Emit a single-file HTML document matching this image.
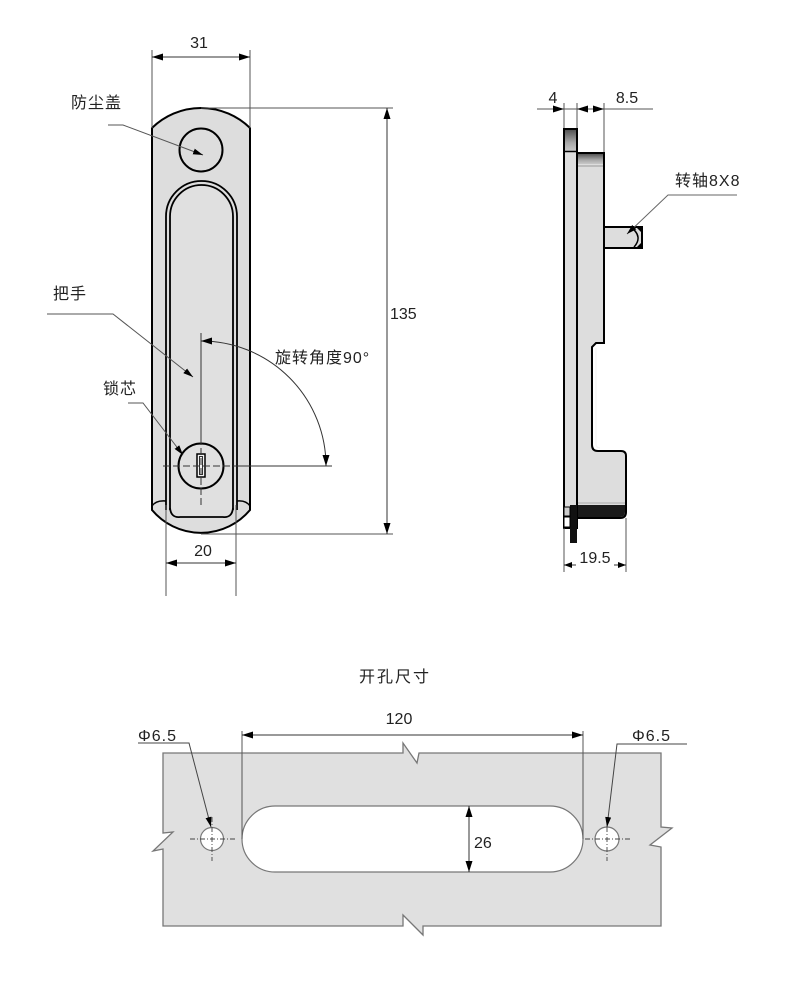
<!DOCTYPE html>
<html>
<head>
<meta charset="utf-8">
<style>
  html,body{margin:0;padding:0;background:#fff;}
  svg{display:block;}
  text{font-family:"Liberation Sans","Noto Sans CJK SC",sans-serif;font-size:16px;fill:#222;}
  .cjk{letter-spacing:1px;}
</style>
</head>
<body>
<svg width="788" height="1000" viewBox="0 0 788 1000" xmlns="http://www.w3.org/2000/svg">
  <defs>
    <marker id="ar" viewBox="0 0 11 7" refX="11" refY="3.5" markerWidth="11" markerHeight="7" markerUnits="userSpaceOnUse" orient="auto-start-reverse">
      <path d="M0,0 L11,3.5 L0,7 z" fill="#000"/>
    </marker>
    <marker id="la" viewBox="0 0 10 6" refX="10" refY="3" markerWidth="10" markerHeight="6" markerUnits="userSpaceOnUse" orient="auto">
      <path d="M0,0 L10,3 L0,6 z" fill="#000"/>
    </marker>
    <linearGradient id="g1" x1="0" y1="0" x2="0" y2="1">
      <stop offset="0" stop-color="#555"/>
      <stop offset="0.6" stop-color="#a8a8a8"/>
      <stop offset="1" stop-color="#c8c8c8"/>
    </linearGradient>
  </defs>
  <rect width="788" height="1000" fill="#fff"/>

  <!-- ============ FRONT VIEW ============ -->
  <!-- body -->
  <path d="M152,128 A70,70 0 0 1 250,128 L250,510 A64,64 0 0 1 152,510 Z" fill="#dddddd" stroke="#000" stroke-width="2"/>
  <!-- dust cover -->
  <circle cx="201" cy="150" r="21.5" fill="#dddddd" stroke="#000" stroke-width="2"/>
  <!-- handle double outline -->
  <path d="M166,510 L166,216.5 A35.5,35.5 0 0 1 237,216.5 L237,510" fill="none" stroke="#000" stroke-width="1.8"/>
  <path d="M170,510 L170,216.5 A31.5,31.5 0 0 1 233,216.5 L233,510" fill="#e0e0e0" stroke="#000" stroke-width="1.8"/>
  <!-- side strip ends -->
  <path d="M152,506 Q156,500 166,501" fill="none" stroke="#000" stroke-width="1.5"/>
  <path d="M250,506 Q246,500 237,501" fill="none" stroke="#000" stroke-width="1.5"/>
  <!-- handle bottom -->
  <path d="M170,508 Q171,518 180,517 L223,517 Q232,518 233,508" fill="none" stroke="#000" stroke-width="1.8"/>

  <!-- lock cylinder -->
  <circle cx="201" cy="466" r="22.5" fill="#e0e0e0" stroke="#000" stroke-width="2"/>
  <rect x="197" y="454" width="8" height="23" fill="#f2f2f2" stroke="#000" stroke-width="1.5"/>
  <rect x="199.5" y="456.5" width="3" height="18" fill="none" stroke="#000" stroke-width="0.8"/>

  <!-- rotation center lines -->
  <line x1="201" y1="333" x2="201" y2="438" stroke="#333" stroke-width="1"/>
  <line x1="201" y1="438" x2="201" y2="505" stroke="#333" stroke-width="1" stroke-dasharray="7,3"/>
  <line x1="163" y1="466" x2="238" y2="466" stroke="#333" stroke-width="1" stroke-dasharray="7,3"/>
  <line x1="238" y1="466" x2="332" y2="466" stroke="#333" stroke-width="1"/>
  <path d="M201,341 A125,125 0 0 1 326,466" fill="none" stroke="#333" stroke-width="1" marker-start="url(#ar)" marker-end="url(#ar)"/>
  <text x="275" y="363" class="cjk">旋转角度90°</text>

  <!-- dim 31 -->
  <line x1="152" y1="50" x2="152" y2="128" stroke="#555" stroke-width="1"/>
  <line x1="250" y1="50" x2="250" y2="128" stroke="#555" stroke-width="1"/>
  <line x1="152" y1="57" x2="250" y2="57" stroke="#333" stroke-width="1" marker-start="url(#ar)" marker-end="url(#ar)"/>
  <text x="199" y="48" text-anchor="middle">31</text>

  <!-- dim 135 -->
  <line x1="201" y1="108" x2="393" y2="108" stroke="#555" stroke-width="1"/>
  <line x1="201" y1="534" x2="393" y2="534" stroke="#555" stroke-width="1"/>
  <line x1="387" y1="108" x2="387" y2="534" stroke="#333" stroke-width="1" marker-start="url(#ar)" marker-end="url(#ar)"/>
  <text x="390" y="319">135</text>

  <!-- dim 20 -->
  <line x1="166" y1="505" x2="166" y2="596" stroke="#555" stroke-width="1"/>
  <line x1="236" y1="505" x2="236" y2="596" stroke="#555" stroke-width="1"/>
  <line x1="166" y1="563" x2="236" y2="563" stroke="#333" stroke-width="1" marker-start="url(#ar)" marker-end="url(#ar)"/>
  <text x="203" y="556" text-anchor="middle">20</text>

  <!-- leaders -->
  <text x="71" y="108" class="cjk">防尘盖</text>
  <path d="M108,125 L123,125 L203,155" fill="none" stroke="#555" stroke-width="1" marker-end="url(#la)"/>
  <text x="53" y="299" class="cjk">把手</text>
  <path d="M47,314 L113,314 L193,377" fill="none" stroke="#555" stroke-width="1" marker-end="url(#la)"/>
  <text x="103" y="394" class="cjk">锁芯</text>
  <path d="M128,403 L143,403 L183,455" fill="none" stroke="#555" stroke-width="1" marker-end="url(#la)"/>

  <!-- ============ SIDE VIEW ============ -->
  <!-- dims 4 / 8.5 -->
  <line x1="564" y1="103" x2="564" y2="129" stroke="#555" stroke-width="1"/>
  <line x1="577" y1="103" x2="577" y2="153" stroke="#555" stroke-width="1"/>
  <line x1="604" y1="103" x2="604" y2="153" stroke="#555" stroke-width="1"/>
  <line x1="537" y1="109" x2="653" y2="109" stroke="#555" stroke-width="1"/>
  <path d="M553,105.5 L564,109 L553,112.5 Z" fill="#000"/>
  <path d="M588,105.5 L577,109 L588,112.5 Z" fill="#000"/>
  <path d="M593,105.5 L604,109 L593,112.5 Z" fill="#000"/>
  <text x="553" y="103" text-anchor="middle">4</text>
  <text x="627" y="103" text-anchor="middle">8.5</text>

  <!-- body -->
  <path d="M577,153 L604,153 L604,343 L596,343 L592,347 L592,445 Q592,451 598,451 L621,451 Q626,451 626,456 L626,512 Q626,518 620,518 L577,518 Z" fill="#dddddd" stroke="#000" stroke-width="2"/>
  <path d="M596,348 L596,444 Q596,448 600,448" fill="none" stroke="#f4f4f4" stroke-width="1.2"/>
  <rect x="578" y="154" width="25" height="10" fill="url(#g1)"/>
  <line x1="578" y1="166" x2="603" y2="166" stroke="#999" stroke-width="1"/>
  <path d="M578,505 L625,505 L625,512 Q625,517 620,517 L578,517 Z" fill="#1a1a1a"/>
  <line x1="578" y1="503" x2="625" y2="503" stroke="#aaa" stroke-width="1"/>

  <!-- flange -->
  <rect x="564" y="129" width="13" height="399" fill="#dddddd" stroke="#000" stroke-width="2"/>
  <rect x="565" y="130" width="11" height="21" fill="url(#g1)"/>
  <line x1="564" y1="151.5" x2="577" y2="151.5" stroke="#000" stroke-width="1.5"/>
  <rect x="570" y="505" width="7" height="38" fill="#111"/>
  <rect x="564" y="507" width="6" height="9" fill="#ccc" stroke="#000" stroke-width="1"/>
  <rect x="564" y="517" width="6" height="10" fill="#fff" stroke="#000" stroke-width="1"/>

  <!-- shaft -->
  <rect x="604" y="227" width="38" height="21" fill="#dddddd" stroke="#000" stroke-width="2"/>
  <path d="M632,228 Q643,237 634,247" fill="none" stroke="#000" stroke-width="1.5"/>
  <path d="M637,228 L642,228 L642,233 Z" fill="#000"/>
  <path d="M637,247 L642,247 L642,242 Z" fill="#000"/>

  <!-- shaft leader -->
  <text x="675" y="186" class="cjk">转轴8X8</text>
  <path d="M737,195 L668,195 L627,234" fill="none" stroke="#666" stroke-width="1" marker-end="url(#la)"/>

  <!-- dim 19.5 -->
  <line x1="564" y1="528" x2="564" y2="572" stroke="#555" stroke-width="1"/>
  <line x1="626" y1="518" x2="626" y2="572" stroke="#555" stroke-width="1"/>
  <line x1="564" y1="565" x2="576" y2="565" stroke="#333" stroke-width="1"/>
  <line x1="614" y1="565" x2="626" y2="565" stroke="#333" stroke-width="1"/>
  <path d="M564,565 L572,562 L572,568 Z" fill="#000"/>
  <path d="M626,565 L618,562 L618,568 Z" fill="#000"/>
  <text x="595" y="563" text-anchor="middle">19.5</text>

  <!-- ============ CUTOUT ============ -->
  <text x="395" y="682" text-anchor="middle" class="cjk" style="letter-spacing:2px">开孔尺寸</text>

  <path d="M163,753 L403,753 L403,743 L417,763 L419,753 L661,753 L661,827 L672,828 L650,845 L661,847 L661,926 L423,926 L423,935 L403,915 L403,926 L163,926 L163,849 L153,851 L173,832 L163,833 Z" fill="#e0e0e0" stroke="#777" stroke-width="1.3" stroke-linejoin="miter"/>

  <path d="M275,806 L550,806 A33,33 0 0 1 550,872 L275,872 A33,33 0 0 1 275,806 Z" fill="#fff" stroke="#777" stroke-width="1.2"/>

  <!-- 120 -->
  <line x1="242" y1="731" x2="242" y2="839" stroke="#555" stroke-width="1"/>
  <line x1="583" y1="731" x2="583" y2="839" stroke="#555" stroke-width="1"/>
  <line x1="242" y1="735" x2="583" y2="735" stroke="#333" stroke-width="1" marker-start="url(#ar)" marker-end="url(#ar)"/>
  <text x="399" y="724" text-anchor="middle">120</text>

  <!-- 26 -->
  <line x1="469" y1="806" x2="469" y2="872" stroke="#333" stroke-width="1" marker-start="url(#ar)" marker-end="url(#ar)"/>
  <text x="474" y="848">26</text>

  <!-- holes -->
  <circle cx="212" cy="839" r="11.5" fill="#fff" stroke="#777" stroke-width="1.2"/>
  <line x1="190" y1="839" x2="235" y2="839" stroke="#444" stroke-width="0.9" stroke-dasharray="5,2,1,2"/>
  <line x1="212" y1="817" x2="212" y2="861" stroke="#444" stroke-width="0.9" stroke-dasharray="5,2,1,2"/>
  <circle cx="607" cy="839" r="12" fill="#fff" stroke="#777" stroke-width="1.2"/>
  <line x1="585" y1="839" x2="630" y2="839" stroke="#444" stroke-width="0.9" stroke-dasharray="5,2,1,2"/>
  <line x1="607" y1="817" x2="607" y2="861" stroke="#444" stroke-width="0.9" stroke-dasharray="5,2,1,2"/>

  <!-- Φ6.5 leaders -->
  <text x="138" y="741" style="letter-spacing:1px">Φ6.5</text>
  <path d="M138,743 L189,743 L211,827" fill="none" stroke="#444" stroke-width="1" marker-end="url(#la)"/>
  <text x="632" y="741" style="letter-spacing:1px">Φ6.5</text>
  <path d="M687,744 L617,744 L607,827" fill="none" stroke="#444" stroke-width="1" marker-end="url(#la)"/>
</svg>
</body>
</html>
